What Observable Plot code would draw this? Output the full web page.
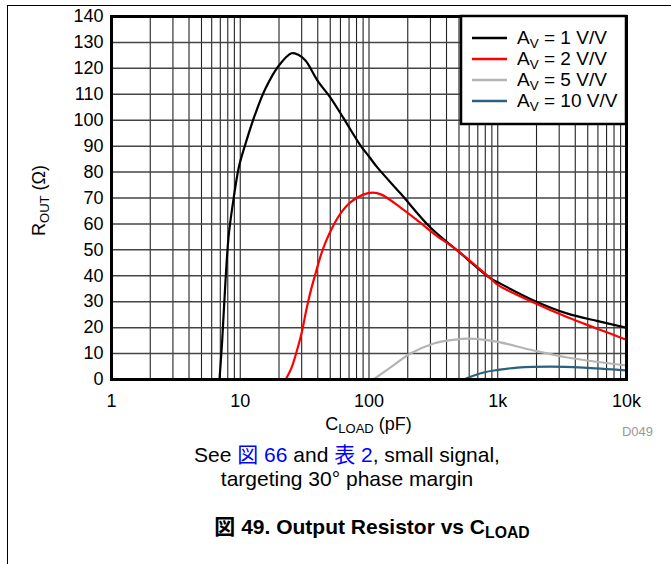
<!DOCTYPE html>
<html><head><meta charset="utf-8">
<script src="https://cdn.jsdelivr.net/npm/d3@7"></script>
<script src="https://cdn.jsdelivr.net/npm/@observablehq/plot@0.6"></script>
<style>
body{margin:0;background:#fff;font-family:"Liberation Sans",Arial,"Noto Sans CJK JP",sans-serif;}
#page{position:relative;width:671px;height:564px;overflow:hidden;background:#fff;}
#border{position:absolute;left:7px;top:5px;right:0;bottom:0;border-left:1.5px solid #000;border-top:1.5px solid #000;}
#chart{position:absolute;left:0;top:0;}
.cap{position:absolute;left:0;text-align:center;color:#000;line-height:24px;white-space:nowrap;}
.link{color:#0000ff;}
.sub{font-size:0.75em;position:relative;top:4px;}
</style></head><body>
<div id="page"><div id="border"></div><div id="chart"></div>
<div class="cap" style="top:443px;width:694px;font-size:21px">See <span class="link">図 66</span> and <span class="link">表 2</span>, small signal,<br>targeting 30° phase margin</div>
<div class="cap" style="top:515px;width:744px;font-size:21px;font-weight:bold">図 49. Output Resistor vs C<span class="sub">LOAD</span></div>
</div>
<script>
// ---- data ----
const seriesNames = ["1", "2", "5", "10"];
const seriesColors = ["#000000", "#ff0000", "#b4b4b4", "#2b6080"];
const av1C = [6.9, 7.24, 7.68, 8.15, 8.91, 9.75, 10.98, 13.1, 15.7, 19.9, 25, 28, 32.1, 39.8, 50, 63, 86, 100, 116, 176, 300, 487, 879, 1000, 1897, 3483, 6000, 10000];
const av1R = [0, 15, 38, 56, 70.3, 81.9, 90.9, 102.5, 112.2, 121, 125.8, 125.3, 123, 115.3, 108.8, 101, 90.2, 86, 81.8, 71.7, 58.6, 49.7, 39, 37.5, 30.5, 25.4, 22.5, 20];
const av2C = [22.5, 25, 27.5, 30, 32.5, 35, 38.4, 42, 46, 53, 60, 72, 90, 107, 125, 176, 250, 318, 487, 879, 1000, 1897, 3483, 6000, 10000];
const av2R = [0, 4.5, 11, 18, 26.5, 33.5, 40.8, 47.5, 53, 59.5, 64, 68.4, 71.3, 72.1, 71.3, 66.3, 60.5, 56.3, 49.7, 39, 36.5, 29.7, 24, 19.5, 15.3];
const av5C = [108, 150, 210, 318, 450, 582, 800, 1047, 1897, 3483, 10000];
const av5R = [0, 5, 10, 13.9, 15.3, 15.8, 15.3, 14.3, 11.2, 8.5, 5.4];
const av10C = [542, 776, 1000, 1422, 2570, 4637, 10000];
const av10R = [0, 2.7, 3.7, 4.6, 5, 4.6, 3.5];
const xTicks = [1, 10, 100, 1000, 10000];
const xTickLabels = ["1", "10", "100", "1k", "10k"];
const yTicks = [0, 10, 20, 30, 40, 50, 60, 70, 80, 90, 100, 110, 120, 130, 140];
const xMinor = [1, 2, 3, 4, 5, 6, 7, 8, 9];

// ---- table ----
const seriesC = [av1C, av2C, av5C, av10C];
const seriesR = [av1R, av2R, av5R, av10R];
const rows = [];
seriesNames.forEach((s, i) => seriesC[i].forEach((c, j) => rows.push({s, c, r: seriesR[i][j]})));
const xGrid = [];
xTicks.slice(0, -1).forEach(d => xMinor.forEach(m => xGrid.push(d * m)));
xGrid.push(10000);

const font = '"Liberation Sans", Arial, sans-serif';
const plot = Plot.plot({
  width: 671, height: 445,
  marginLeft: 111, marginRight: 45, marginTop: 16, marginBottom: 66,
  style: {fontSize: "18px", fontFamily: font, background: "transparent", overflow: "visible"},
  x: {type: "log", domain: [1, 10000]},
  y: {domain: [0, 140]},
  color: {domain: seriesNames, range: seriesColors},
  marks: [
    Plot.ruleX(xGrid, {stroke: "#222", strokeWidth: 1.1}),
    Plot.ruleY(yTicks, {stroke: "#444", strokeWidth: 1.5}),
    Plot.line(rows, {x: "c", y: "r", z: "s", stroke: "s", strokeWidth: 2.2, curve: "catmull-rom", clip: true}),
    Plot.axisX({ticks: xTicks, tickFormat: d => xTickLabels[xTicks.indexOf(d)], tickSize: 0, tickPadding: 15, label: null}),
    Plot.axisY({ticks: yTicks, tickSize: 0, tickPadding: 8, label: null}),
    Plot.frame({stroke: "#000", strokeWidth: 3})
  ]
});
document.getElementById("chart").appendChild(plot);

const svg = d3.select(plot);
const sx = plot.scale("x"), sy = plot.scale("y");
const pLeft = sx.apply(1), pRight = sx.apply(10000), pTop = sy.apply(140), pBottom = sy.apply(0);

// y label
const yl = svg.append("text").attr("transform", `translate(45,${(pTop + pBottom) / 2 + 3}) rotate(-90)`)
  .attr("text-anchor", "middle").attr("font-family", font).attr("font-size", 18).attr("fill", "#000");
yl.append("tspan").text("R");
yl.append("tspan").attr("font-size", 13).attr("dy", 4).text("OUT");
yl.append("tspan").attr("dy", -4).text(" (Ω)");

// x label
const xl = svg.append("text").attr("x", (pLeft + pRight) / 2).attr("y", pBottom + 51)
  .attr("text-anchor", "middle").attr("font-family", font).attr("font-size", 18).attr("fill", "#000");
xl.append("tspan").text("C");
xl.append("tspan").attr("font-size", 13).attr("dy", 3).text("LOAD");
xl.append("tspan").attr("dy", -3).text(" (pF)");

// D049
svg.append("text").attr("x", pRight + 27).attr("y", pBottom + 57).attr("text-anchor", "end")
  .attr("font-family", font).attr("font-size", 13).attr("fill", "#999").text("D049");

// legend
const lg = svg.append("g").attr("text-anchor", "start");
const lw = 165, lh = 108, lx = pRight - lw;
lg.append("rect").attr("x", lx).attr("y", pTop).attr("width", lw).attr("height", lh)
  .attr("fill", "#fff").attr("stroke", "#000").attr("stroke-width", 2.5);
seriesNames.forEach((s, i) => {
  const yy = pTop + 22 + i * 21;
  lg.append("line").attr("x1", lx + 11).attr("x2", lx + 46).attr("y1", yy).attr("y2", yy)
    .attr("stroke", seriesColors[i]).attr("stroke-width", 2.5);
  const t = lg.append("text").attr("x", lx + 56).attr("y", yy + 6).attr("font-family", font)
    .attr("text-anchor", "start").attr("font-size", 19).attr("fill", "#000");
  t.append("tspan").text("A");
  t.append("tspan").attr("font-size", 13.5).attr("dy", 4).text("V");
  t.append("tspan").attr("dy", -4).text(` = ${s} V/V`);
});
</script>
</body></html>
